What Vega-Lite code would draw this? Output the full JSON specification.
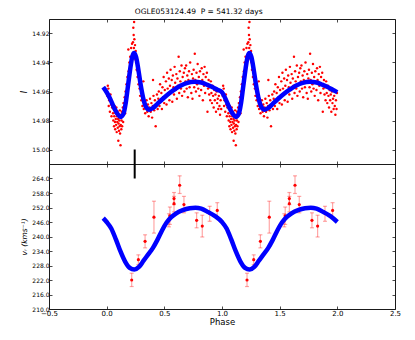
{
"$schema":"https://vega.github.io/schema/vega-lite/v6.json",
"padding":{"left":20,"top":7,"right":5,"bottom":5},
"title":{"text":"OGLE053124.49\u00a0\u00a0P = 541.32 days","fontSize":7.5,"fontWeight":"normal","font":"DejaVu Sans","anchor":"middle","dx":-12,"offset":3,"color":"#000"},
"spacing":0,
"bounds":"flush",
"config":{"font":"DejaVu Sans","view":{"stroke":"#1a1a1a","strokeWidth":1},
"axis":{"grid":false,"domain":false,"tickSize":-3,"tickColor":"#1a1a1a","tickWidth":0.8,"labelColor":"#000","labelFont":"DejaVu Sans","labelFontSize":6,"labelPadding":3,"labelFlush":false,"labelOverlap":false,"titleFont":"DejaVu Sans","titleFontWeight":"normal","titleColor":"#000","titlePadding":3}},
"datasets":{
"lc":[
{"p":0.005,"m":14.963},{"p":0.010,"m":14.956},{"p":0.015,"m":14.958},{"p":0.018,"m":14.970},{"p":0.022,"m":14.966},{"p":0.028,"m":14.974},{"p":0.033,"m":14.962},{"p":0.038,"m":14.969},{"p":0.042,"m":14.977},{"p":0.047,"m":14.971},
{"p":0.052,"m":14.968},{"p":0.055,"m":14.975},{"p":0.058,"m":14.980},{"p":0.061,"m":14.972},{"p":0.064,"m":14.984},{"p":0.066,"m":14.977},{"p":0.069,"m":14.970},{"p":0.072,"m":14.981},{"p":0.074,"m":14.986},{"p":0.077,"m":14.975},{"p":0.079,"m":14.979},{"p":0.082,"m":14.983},{"p":0.084,"m":14.971},{"p":0.087,"m":14.988},{"p":0.089,"m":14.977},{"p":0.092,"m":14.981},{"p":0.094,"m":14.974},{"p":0.096,"m":14.985},{"p":0.099,"m":14.979},{"p":0.101,"m":14.994},{"p":0.103,"m":14.982},{"p":0.105,"m":14.976},{"p":0.107,"m":14.987},{"p":0.109,"m":14.980},{"p":0.112,"m":14.984},{"p":0.114,"m":14.973},{"p":0.116,"m":14.989},{"p":0.118,"m":14.978},{"p":0.120,"m":14.997},{"p":0.122,"m":14.983},{"p":0.124,"m":14.976},{"p":0.127,"m":14.986},{"p":0.129,"m":14.980},{"p":0.131,"m":14.974},{"p":0.134,"m":14.984},{"p":0.137,"m":14.977},{"p":0.140,"m":14.971},{"p":0.143,"m":14.981},{"p":0.146,"m":14.968},{"p":0.149,"m":14.975},
{"p":0.152,"m":14.972},{"p":0.156,"m":14.964},{"p":0.160,"m":14.975},{"p":0.164,"m":14.960},{"p":0.168,"m":14.968},{"p":0.172,"m":14.955},{"p":0.176,"m":14.962},{"p":0.180,"m":14.950},{"p":0.184,"m":14.958},{"p":0.188,"m":14.931},{"p":0.190,"m":14.946},{"p":0.194,"m":14.952},{"p":0.197,"m":14.940},
{"p":0.200,"m":14.945},{"p":0.204,"m":14.936},{"p":0.208,"m":14.942},{"p":0.212,"m":14.930},{"p":0.216,"m":14.938},{"p":0.220,"m":14.927},{"p":0.224,"m":14.935},{"p":0.228,"m":14.926},{"p":0.231,"m":14.916},{"p":0.234,"m":14.921},{"p":0.236,"m":14.930},{"p":0.238,"m":14.912},{"p":0.240,"m":14.924},{"p":0.243,"m":14.933},{"p":0.246,"m":14.928},{"p":0.249,"m":14.938},{"p":0.252,"m":14.932},{"p":0.256,"m":14.940},{"p":0.260,"m":14.945},{"p":0.264,"m":14.938},{"p":0.268,"m":14.950},
{"p":0.272,"m":14.946},{"p":0.276,"m":14.955},{"p":0.280,"m":14.950},{"p":0.285,"m":14.958},{"p":0.290,"m":14.963},{"p":0.295,"m":14.955},{"p":0.300,"m":14.966},{"p":0.305,"m":14.960},{"p":0.310,"m":14.970},{"p":0.316,"m":14.965},{"p":0.318,"m":14.953},{"p":0.322,"m":14.972},{"p":0.328,"m":14.968},{"p":0.334,"m":14.975},{"p":0.340,"m":14.970},{"p":0.346,"m":14.966},
{"p":0.352,"m":14.974},{"p":0.358,"m":14.969},{"p":0.364,"m":14.977},{"p":0.370,"m":14.971},{"p":0.376,"m":14.965},{"p":0.382,"m":14.974},{"p":0.388,"m":14.968},{"p":0.394,"m":14.978},{"p":0.400,"m":14.970},{"p":0.402,"m":14.952},{"p":0.406,"m":14.963},{"p":0.412,"m":14.973},{"p":0.418,"m":14.966},{"p":0.425,"m":14.984},{"p":0.430,"m":14.969},{"p":0.436,"m":14.962},{"p":0.442,"m":14.972},{"p":0.448,"m":14.965},
{"p":0.452,"m":14.960},{"p":0.458,"m":14.970},{"p":0.463,"m":14.955},{"p":0.468,"m":14.966},{"p":0.474,"m":14.961},{"p":0.479,"m":14.972},{"p":0.484,"m":14.957},{"p":0.489,"m":14.964},{"p":0.494,"m":14.950},{"p":0.499,"m":14.968},{"p":0.504,"m":14.959},{"p":0.509,"m":14.963},{"p":0.514,"m":14.953},{"p":0.519,"m":14.969},{"p":0.524,"m":14.947},{"p":0.529,"m":14.958},{"p":0.534,"m":14.962},{"p":0.539,"m":14.951},{"p":0.544,"m":14.966},{"p":0.549,"m":14.956},{"p":0.554,"m":14.945},{"p":0.559,"m":14.960},{"p":0.564,"m":14.952},{"p":0.569,"m":14.967},{"p":0.574,"m":14.949},{"p":0.579,"m":14.957},{"p":0.584,"m":14.962},{"p":0.589,"m":14.943},{"p":0.594,"m":14.954},{"p":0.599,"m":14.959},{"p":0.604,"m":14.948},{"p":0.609,"m":14.965},{"p":0.614,"m":14.951},{"p":0.619,"m":14.956},{"p":0.624,"m":14.936},{"p":0.629,"m":14.961},{"p":0.634,"m":14.946},{"p":0.639,"m":14.953},{"p":0.644,"m":14.958},{"p":0.649,"m":14.942},{"p":0.654,"m":14.963},{"p":0.659,"m":14.950},{"p":0.664,"m":14.955},{"p":0.669,"m":14.947},{"p":0.674,"m":14.960},{"p":0.679,"m":14.944},{"p":0.684,"m":14.953},{"p":0.689,"m":14.942},{"p":0.694,"m":14.958},{"p":0.699,"m":14.949},{"p":0.704,"m":14.964},{"p":0.709,"m":14.952},{"p":0.714,"m":14.946},{"p":0.719,"m":14.957},{"p":0.724,"m":14.940},{"p":0.729,"m":14.954},{"p":0.734,"m":14.961},{"p":0.739,"m":14.948},{"p":0.744,"m":14.965},{"p":0.749,"m":14.951},{"p":0.754,"m":14.945},{"p":0.759,"m":14.957},{"p":0.764,"m":14.934},{"p":0.769,"m":14.952},{"p":0.774,"m":14.960},{"p":0.779,"m":14.947},{"p":0.784,"m":14.955},{"p":0.789,"m":14.941},{"p":0.794,"m":14.958},{"p":0.799,"m":14.950},{"p":0.804,"m":14.963},{"p":0.809,"m":14.946},{"p":0.814,"m":14.954},{"p":0.819,"m":14.959},{"p":0.824,"m":14.944},{"p":0.829,"m":14.952},{"p":0.834,"m":14.966},{"p":0.839,"m":14.948},{"p":0.844,"m":14.956},{"p":0.849,"m":14.943},{"p":0.854,"m":14.961},{"p":0.859,"m":14.950},{"p":0.864,"m":14.955},{"p":0.869,"m":14.947},{"p":0.874,"m":14.974},{"p":0.879,"m":14.958},{"p":0.884,"m":14.952},{"p":0.889,"m":14.962},
{"p":0.893,"m":14.957},{"p":0.898,"m":14.966},{"p":0.903,"m":14.953},{"p":0.908,"m":14.961},{"p":0.913,"m":14.968},{"p":0.918,"m":14.956},{"p":0.923,"m":14.963},{"p":0.928,"m":14.971},{"p":0.933,"m":14.959},{"p":0.938,"m":14.966},{"p":0.943,"m":14.962},{"p":0.948,"m":14.974},{"p":0.953,"m":14.960},{"p":0.958,"m":14.968},{"p":0.963,"m":14.965},{"p":0.968,"m":14.972},{"p":0.973,"m":14.963},{"p":0.978,"m":14.970},{"p":0.983,"m":14.976},{"p":0.988,"m":14.966},{"p":0.993,"m":14.972},{"p":0.997,"m":14.961},
{"p":1.005,"m":14.963},{"p":1.010,"m":14.956},{"p":1.015,"m":14.958},{"p":1.018,"m":14.970},{"p":1.022,"m":14.966},{"p":1.028,"m":14.974},{"p":1.033,"m":14.962},{"p":1.038,"m":14.969},{"p":1.042,"m":14.977},{"p":1.047,"m":14.971},
{"p":1.052,"m":14.968},{"p":1.055,"m":14.975},{"p":1.058,"m":14.980},{"p":1.061,"m":14.972},{"p":1.064,"m":14.984},{"p":1.066,"m":14.977},{"p":1.069,"m":14.970},{"p":1.072,"m":14.981},{"p":1.074,"m":14.986},{"p":1.077,"m":14.975},{"p":1.079,"m":14.979},{"p":1.082,"m":14.983},{"p":1.084,"m":14.971},{"p":1.087,"m":14.988},{"p":1.089,"m":14.977},{"p":1.092,"m":14.981},{"p":1.094,"m":14.974},{"p":1.096,"m":14.985},{"p":1.099,"m":14.979},{"p":1.101,"m":14.994},{"p":1.103,"m":14.982},{"p":1.105,"m":14.976},{"p":1.107,"m":14.987},{"p":1.109,"m":14.980},{"p":1.112,"m":14.984},{"p":1.114,"m":14.973},{"p":1.116,"m":14.989},{"p":1.118,"m":14.978},{"p":1.120,"m":14.997},{"p":1.122,"m":14.983},{"p":1.124,"m":14.976},{"p":1.127,"m":14.986},{"p":1.129,"m":14.980},{"p":1.131,"m":14.974},{"p":1.134,"m":14.984},{"p":1.137,"m":14.977},{"p":1.140,"m":14.971},{"p":1.143,"m":14.981},{"p":1.146,"m":14.968},{"p":1.149,"m":14.975},
{"p":1.152,"m":14.972},{"p":1.156,"m":14.964},{"p":1.160,"m":14.975},{"p":1.164,"m":14.960},{"p":1.168,"m":14.968},{"p":1.172,"m":14.955},{"p":1.176,"m":14.962},{"p":1.180,"m":14.950},{"p":1.184,"m":14.958},{"p":1.188,"m":14.931},{"p":1.190,"m":14.946},{"p":1.194,"m":14.952},{"p":1.197,"m":14.940},
{"p":1.200,"m":14.945},{"p":1.204,"m":14.936},{"p":1.208,"m":14.942},{"p":1.212,"m":14.930},{"p":1.216,"m":14.938},{"p":1.220,"m":14.927},{"p":1.224,"m":14.935},{"p":1.228,"m":14.926},{"p":1.231,"m":14.916},{"p":1.234,"m":14.921},{"p":1.236,"m":14.930},{"p":1.238,"m":14.912},{"p":1.240,"m":14.924},{"p":1.243,"m":14.933},{"p":1.246,"m":14.928},{"p":1.249,"m":14.938},{"p":1.252,"m":14.932},{"p":1.256,"m":14.940},{"p":1.260,"m":14.945},{"p":1.264,"m":14.938},{"p":1.268,"m":14.950},
{"p":1.272,"m":14.946},{"p":1.276,"m":14.955},{"p":1.280,"m":14.950},{"p":1.285,"m":14.958},{"p":1.290,"m":14.963},{"p":1.295,"m":14.955},{"p":1.300,"m":14.966},{"p":1.305,"m":14.960},{"p":1.310,"m":14.970},{"p":1.316,"m":14.965},{"p":1.318,"m":14.953},{"p":1.322,"m":14.972},{"p":1.328,"m":14.968},{"p":1.334,"m":14.975},{"p":1.340,"m":14.970},{"p":1.346,"m":14.966},
{"p":1.352,"m":14.974},{"p":1.358,"m":14.969},{"p":1.364,"m":14.977},{"p":1.370,"m":14.971},{"p":1.376,"m":14.965},{"p":1.382,"m":14.974},{"p":1.388,"m":14.968},{"p":1.394,"m":14.978},{"p":1.400,"m":14.970},{"p":1.402,"m":14.952},{"p":1.406,"m":14.963},{"p":1.412,"m":14.973},{"p":1.418,"m":14.966},{"p":1.425,"m":14.984},{"p":1.430,"m":14.969},{"p":1.436,"m":14.962},{"p":1.442,"m":14.972},{"p":1.448,"m":14.965},
{"p":1.452,"m":14.960},{"p":1.458,"m":14.970},{"p":1.463,"m":14.955},{"p":1.468,"m":14.966},{"p":1.474,"m":14.961},{"p":1.479,"m":14.972},{"p":1.484,"m":14.957},{"p":1.489,"m":14.964},{"p":1.494,"m":14.950},{"p":1.499,"m":14.968},{"p":1.504,"m":14.959},{"p":1.509,"m":14.963},{"p":1.514,"m":14.953},{"p":1.519,"m":14.969},{"p":1.524,"m":14.947},{"p":1.529,"m":14.958},{"p":1.534,"m":14.962},{"p":1.539,"m":14.951},{"p":1.544,"m":14.966},{"p":1.549,"m":14.956},{"p":1.554,"m":14.945},{"p":1.559,"m":14.960},{"p":1.564,"m":14.952},{"p":1.569,"m":14.967},{"p":1.574,"m":14.949},{"p":1.579,"m":14.957},{"p":1.584,"m":14.962},{"p":1.589,"m":14.943},{"p":1.594,"m":14.954},{"p":1.599,"m":14.959},{"p":1.604,"m":14.948},{"p":1.609,"m":14.965},{"p":1.614,"m":14.951},{"p":1.619,"m":14.956},{"p":1.624,"m":14.936},{"p":1.629,"m":14.961},{"p":1.634,"m":14.946},{"p":1.639,"m":14.953},{"p":1.644,"m":14.958},{"p":1.649,"m":14.942},{"p":1.654,"m":14.963},{"p":1.659,"m":14.950},{"p":1.664,"m":14.955},{"p":1.669,"m":14.947},{"p":1.674,"m":14.960},{"p":1.679,"m":14.944},{"p":1.684,"m":14.953},{"p":1.689,"m":14.942},{"p":1.694,"m":14.958},{"p":1.699,"m":14.949},{"p":1.704,"m":14.964},{"p":1.709,"m":14.952},{"p":1.714,"m":14.946},{"p":1.719,"m":14.957},{"p":1.724,"m":14.940},{"p":1.729,"m":14.954},{"p":1.734,"m":14.961},{"p":1.739,"m":14.948},{"p":1.744,"m":14.965},{"p":1.749,"m":14.951},{"p":1.754,"m":14.945},{"p":1.759,"m":14.957},{"p":1.764,"m":14.934},{"p":1.769,"m":14.952},{"p":1.774,"m":14.960},{"p":1.779,"m":14.947},{"p":1.784,"m":14.955},{"p":1.789,"m":14.941},{"p":1.794,"m":14.958},{"p":1.799,"m":14.950},{"p":1.804,"m":14.963},{"p":1.809,"m":14.946},{"p":1.814,"m":14.954},{"p":1.819,"m":14.959},{"p":1.824,"m":14.944},{"p":1.829,"m":14.952},{"p":1.834,"m":14.966},{"p":1.839,"m":14.948},{"p":1.844,"m":14.956},{"p":1.849,"m":14.943},{"p":1.854,"m":14.961},{"p":1.859,"m":14.950},{"p":1.864,"m":14.955},{"p":1.869,"m":14.947},{"p":1.874,"m":14.974},{"p":1.879,"m":14.958},{"p":1.884,"m":14.952},{"p":1.889,"m":14.962},
{"p":1.893,"m":14.957},{"p":1.898,"m":14.966},{"p":1.903,"m":14.953},{"p":1.908,"m":14.961},{"p":1.913,"m":14.968},{"p":1.918,"m":14.956},{"p":1.923,"m":14.963},{"p":1.928,"m":14.971},{"p":1.933,"m":14.959},{"p":1.938,"m":14.966},{"p":1.943,"m":14.962},{"p":1.948,"m":14.974},{"p":1.953,"m":14.960},{"p":1.958,"m":14.968},{"p":1.963,"m":14.965},{"p":1.968,"m":14.972},{"p":1.973,"m":14.963},{"p":1.978,"m":14.970},{"p":1.983,"m":14.976},{"p":1.988,"m":14.966},{"p":1.993,"m":14.972},{"p":1.997,"m":14.961}
],
"lcfit":[
{"p":-0.03,"m":14.957},{"p":0.0,"m":14.9605},{"p":0.03,"m":14.965},{"p":0.06,"m":14.9705},{"p":0.09,"m":14.975},{"p":0.12,"m":14.9775},{"p":0.145,"m":14.9755},{"p":0.165,"m":14.968},{"p":0.185,"m":14.956},{"p":0.205,"m":14.944},{"p":0.222,"m":14.936},{"p":0.238,"m":14.9335},{"p":0.254,"m":14.936},{"p":0.275,"m":14.945},{"p":0.295,"m":14.9555},{"p":0.315,"m":14.964},{"p":0.34,"m":14.9705},{"p":0.37,"m":14.9725},{"p":0.40,"m":14.9715},{"p":0.44,"m":14.9685},{"p":0.48,"m":14.9655},{"p":0.53,"m":14.962},{"p":0.58,"m":14.959},{"p":0.64,"m":14.956},{"p":0.70,"m":14.954},{"p":0.76,"m":14.9533},{"p":0.82,"m":14.9538},{"p":0.87,"m":14.9553},{"p":0.92,"m":14.957},{"p":0.96,"m":14.9588},
{"p":1.0,"m":14.9605},{"p":1.03,"m":14.965},{"p":1.06,"m":14.9705},{"p":1.09,"m":14.975},{"p":1.12,"m":14.9775},{"p":1.145,"m":14.9755},{"p":1.165,"m":14.968},{"p":1.185,"m":14.956},{"p":1.205,"m":14.944},{"p":1.222,"m":14.936},{"p":1.238,"m":14.9335},{"p":1.254,"m":14.936},{"p":1.275,"m":14.945},{"p":1.295,"m":14.9555},{"p":1.315,"m":14.964},{"p":1.34,"m":14.9705},{"p":1.37,"m":14.9725},{"p":1.40,"m":14.9715},{"p":1.44,"m":14.9685},{"p":1.48,"m":14.9655},{"p":1.53,"m":14.962},{"p":1.58,"m":14.959},{"p":1.64,"m":14.956},{"p":1.70,"m":14.954},{"p":1.76,"m":14.9533},{"p":1.82,"m":14.9538},{"p":1.87,"m":14.9553},{"p":1.92,"m":14.957},{"p":1.96,"m":14.9588},{"p":2.0,"m":14.9605}
],
"rv":[
{"p":0.217,"v":222.0,"lo":219.3,"hi":224.8},{"p":0.275,"v":230.4,"lo":228.4,"hi":232.4},{"p":0.333,"v":238.0,"lo":235.3,"hi":240.7},{"p":0.410,"v":248.0,"lo":241.4,"hi":254.6},{"p":0.540,"v":246.7,"lo":244.0,"hi":249.4},{"p":0.548,"v":248.6,"lo":245.0,"hi":252.2},{"p":0.584,"v":255.7,"lo":253.2,"hi":258.2},{"p":0.584,"v":253.6,"lo":250.2,"hi":256.6},{"p":0.633,"v":261.2,"lo":257.8,"hi":265.1},{"p":0.670,"v":253.2,"lo":249.8,"hi":256.6},{"p":0.780,"v":246.7,"lo":243.6,"hi":249.8},{"p":0.829,"v":244.3,"lo":239.8,"hi":248.8},{"p":0.893,"v":249.5,"lo":246.3,"hi":252.5},{"p":0.959,"v":250.8,"lo":247.7,"hi":254.0},
{"p":1.217,"v":222.0,"lo":219.3,"hi":224.8},{"p":1.275,"v":230.4,"lo":228.4,"hi":232.4},{"p":1.333,"v":238.0,"lo":235.3,"hi":240.7},{"p":1.410,"v":248.0,"lo":241.4,"hi":254.6},{"p":1.540,"v":246.7,"lo":244.0,"hi":249.4},{"p":1.548,"v":248.6,"lo":245.0,"hi":252.2},{"p":1.584,"v":255.7,"lo":253.2,"hi":258.2},{"p":1.584,"v":253.6,"lo":250.2,"hi":256.6},{"p":1.633,"v":261.2,"lo":257.8,"hi":265.1},{"p":1.670,"v":253.2,"lo":249.8,"hi":256.6},{"p":1.780,"v":246.7,"lo":243.6,"hi":249.8},{"p":1.829,"v":244.3,"lo":239.8,"hi":248.8},{"p":1.893,"v":249.5,"lo":246.3,"hi":252.5},{"p":1.959,"v":250.8,"lo":247.7,"hi":254.0}
],
"rvfit":[
{"p":-0.03,"v":247.6},{"p":0.0,"v":246.0},{"p":0.04,"v":243.3},{"p":0.08,"v":238.8},{"p":0.12,"v":233.8},{"p":0.16,"v":229.6},{"p":0.20,"v":227.0},{"p":0.24,"v":226.3},{"p":0.28,"v":227.4},{"p":0.32,"v":230.0},{"p":0.36,"v":232.6},{"p":0.40,"v":235.2},{"p":0.44,"v":238.6},{"p":0.48,"v":242.5},{"p":0.52,"v":245.8},{"p":0.56,"v":248.0},{"p":0.60,"v":249.5},{"p":0.66,"v":250.9},{"p":0.72,"v":251.7},{"p":0.77,"v":251.9},{"p":0.82,"v":251.5},{"p":0.88,"v":250.1},{"p":0.94,"v":248.4},
{"p":1.0,"v":246.0},{"p":1.04,"v":243.3},{"p":1.08,"v":238.8},{"p":1.12,"v":233.8},{"p":1.16,"v":229.6},{"p":1.20,"v":227.0},{"p":1.24,"v":226.3},{"p":1.28,"v":227.4},{"p":1.32,"v":230.0},{"p":1.36,"v":232.6},{"p":1.40,"v":235.2},{"p":1.44,"v":238.6},{"p":1.48,"v":242.5},{"p":1.52,"v":245.8},{"p":1.56,"v":248.0},{"p":1.60,"v":249.5},{"p":1.66,"v":250.9},{"p":1.72,"v":251.7},{"p":1.77,"v":251.9},{"p":1.82,"v":251.5},{"p":1.88,"v":250.1},{"p":1.94,"v":248.4},{"p":2.0,"v":246.0}
],
"mk1":[{"p":0.243,"a":15.0,"b":15.01}],
"mk2":[{"p":0.243,"a":264,"b":270}]
},
"vconcat":[
{"width":346,"height":145,
"layer":[
{"data":{"name":"lc"},"mark":{"type":"circle","size":6,"color":"#ff0000","opacity":1},
"encoding":{"x":{"field":"p","type":"quantitative","scale":{"domain":[-0.5,2.5],"nice":false,"zero":false},"axis":{"orient":"bottom","values":[-0.5,0,0.5,1,1.5,2,2.5],"labels":false,"title":null}},
"y":{"field":"m","type":"quantitative","scale":{"domain":[14.91,15.01],"reverse":true,"nice":false,"zero":false},"axis":{"orient":"left","values":[14.92,14.94,14.96,14.98,15.0],"format":".2f","title":"I","titleFontStyle":"italic","titleFontSize":8}}}},
{"data":{"name":"lcfit"},"mark":{"type":"line","color":"#0000ff","strokeWidth":4.5,"interpolate":"monotone"},
"encoding":{"x":{"field":"p","type":"quantitative","axis":null},"y":{"field":"m","type":"quantitative","axis":null}}},
{"data":{"name":"mk1"},"mark":{"type":"rule","color":"#000000","strokeWidth":2},
"encoding":{"x":{"field":"p","type":"quantitative","axis":{"orient":"top","values":[-0.5,0,0.5,1,1.5,2,2.5],"labels":false,"title":null}},"y":{"field":"a","type":"quantitative","axis":{"orient":"right","values":[14.92,14.94,14.96,14.98,15.0],"labels":false,"title":null}},"y2":{"field":"b"}}}
],
"resolve":{"axis":{"x":"independent","y":"independent"}}
},
{"width":346,"height":145,
"layer":[
{"data":{"name":"rv"},"mark":{"type":"errorbar","ticks":{"size":4},"color":"#ff0000","opacity":0.35,"thickness":1.2},
"encoding":{"x":{"field":"p","type":"quantitative","scale":{"domain":[-0.5,2.5],"nice":false,"zero":false},"axis":null},
"y":{"field":"lo","type":"quantitative","scale":{"domain":[210,270],"nice":false,"zero":false},"axis":null},"y2":{"field":"hi"}}},
{"data":{"name":"rv"},"mark":{"type":"circle","size":10,"color":"#ff0000","opacity":1},
"encoding":{"x":{"field":"p","type":"quantitative","axis":null},"y":{"field":"v","type":"quantitative","axis":null}}},
{"data":{"name":"rvfit"},"mark":{"type":"line","color":"#0000ff","strokeWidth":4.5,"interpolate":"monotone"},
"encoding":{"x":{"field":"p","type":"quantitative","axis":{"orient":"bottom","values":[-0.5,0,0.5,1,1.5,2,2.5],"format":".1f","labelFontSize":7,"labelPadding":3,"title":"Phase","titleFontSize":8.5,"titlePadding":1}},
"y":{"field":"v","type":"quantitative","axis":{"orient":"left","values":[210,216,222,228,234,240,246,252,258,264],"format":".1f","title":"vᵣ (kms⁻¹)","titleFontStyle":"italic","titleFontSize":7.5}}}},
{"data":{"name":"mk2"},"mark":{"type":"rule","color":"#000000","strokeWidth":2},
"encoding":{"x":{"field":"p","type":"quantitative","axis":{"orient":"top","values":[-0.5,0,0.5,1,1.5,2,2.5],"labels":false,"title":null}},"y":{"field":"a","type":"quantitative","axis":{"orient":"right","values":[210,216,222,228,234,240,246,252,258,264],"labels":false,"title":null}},"y2":{"field":"b"}}}
],
"resolve":{"axis":{"x":"independent","y":"independent"}}
}
]
}
